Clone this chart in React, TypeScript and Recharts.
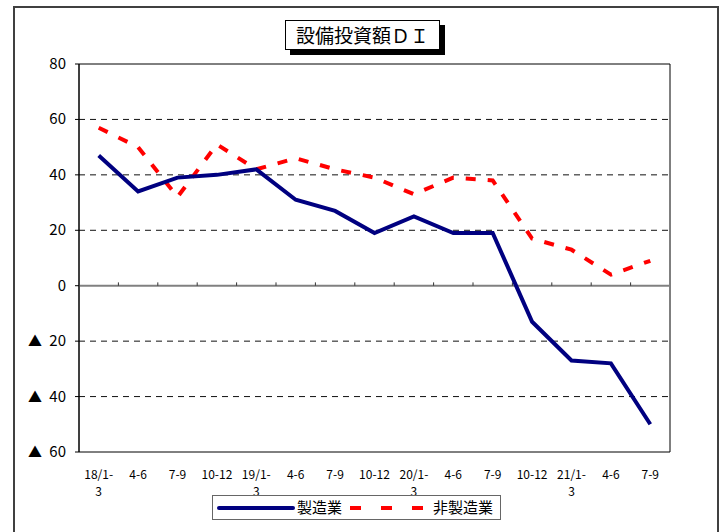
import React from "react";
import {
  LineChart,
  Line,
  XAxis,
  YAxis,
  CartesianGrid,
  ReferenceLine,
  ReferenceArea,
} from "recharts";

const title = "設備投資額ＤＩ";
const categories = [
  "18/1-3", "4-6", "7-9", "10-12",
  "19/1-3", "4-6", "7-9", "10-12",
  "20/1-3", "4-6", "7-9", "10-12",
  "21/1-3", "4-6", "7-9",
];
const seriesNames = ["製造業", "非製造業"];
const manufacturing = [47, 34, 39, 40, 42, 31, 27, 19, 25, 19, 19, -13, -27, -28, -50];
const nonManufacturing = [57, 50, 32, 51, 42, 46, 42, 39, 33, 39, 38, 17, 13, 4, 9];
const yTicks = [-60, -40, -20, 0, 20, 40, 60, 80];

const data = categories.map((c, i) => ({
  idx: i,
  cat: c,
  mfg: manufacturing[i],
  nonMfg: nonManufacturing[i],
}));
const xTicks = categories.map((_, i) => i);
const boundaries = categories.slice(1).map((_, i) => i + 0.5);

const NARROW = "'Liberation Sans Narrow', 'Arial Narrow', 'Noto Sans CJK JP', sans-serif";
const JP = "'Noto Sans CJK JP', sans-serif";

const splitLabel = (c: string): string[] => {
  const m = c.match(/^(\d+\/1-)(3)$/);
  return m ? [m[1], m[2]] : [c];
};

const XTick = (props: any) => {
  const { x, y, payload } = props;
  const label = categories[payload.value] ?? "";
  const lines = splitLabel(label);
  return (
    <g>
      {lines.map((ln, k) => (
        <text
          key={k}
          x={x}
          y={y + 19 + k * 17}
          textAnchor="middle"
          fontSize={12}
          fontFamily={NARROW}
          fill="#000"
        >
          {ln}
        </text>
      ))}
    </g>
  );
};

const YTick = (props: any) => {
  const { x, y, payload } = props;
  const v = payload.value as number;
  return (
    <g>
      {v < 0 && (
        <text x={x - 24} y={y + 5} textAnchor="end" fontSize={14} fontFamily={JP} fill="#000">
          ▲
        </text>
      )}
      <text x={x} y={y + 5} textAnchor="end" fontSize={15} fontFamily={NARROW} fill="#000">
        {Math.abs(v)}
      </text>
    </g>
  );
};

export default function App() {
  return (
    <div
      style={{
        position: "absolute",
        left: 0,
        top: 0,
        width: 728,
        height: 532,
        overflow: "hidden",
        background: "#fff",
      }}
    >
      <div
        style={{
          position: "absolute",
          left: 13,
          top: 6,
          width: 702,
          height: 560,
          border: "2px solid #404040",
        }}
      />
      <LineChart
        width={728}
        height={532}
        data={data}
        margin={{ top: 64, right: 58, bottom: 40, left: 13 }}
        style={{ position: "absolute", left: 0, top: 0 }}
      >
        <CartesianGrid
          vertical={false}
          horizontal={true}
          stroke="#111"
          strokeDasharray="6 5"
          horizontalValues={[-40, -20, 20, 40, 60]}
        />
        <XAxis
          dataKey="idx"
          type="number"
          domain={[-0.5, 14.5]}
          ticks={xTicks}
          interval={0}
          axisLine={false}
          tickLine={false}
          height={40}
          tick={<XTick />}
          allowDecimals={true}
        />
        <YAxis
          type="number"
          domain={[-60, 80]}
          ticks={yTicks}
          interval={0}
          width={66}
          axisLine={{ stroke: "#000", strokeWidth: 1 }}
          tickLine={{ stroke: "#000" }}
          tickSize={4}
          tickMargin={9}
          tick={<YTick />}
        />
        <ReferenceLine y={0} stroke="#808080" strokeWidth={2} />
        {boundaries.map((b) => (
          <ReferenceLine
            key={b}
            segment={[{ x: b, y: 0 }, { x: b, y: 1.2 }]}
            stroke="#333"
            strokeWidth={1}
          />
        ))}
        <ReferenceArea y1={-60} y2={80} fill="none" stroke="#000" strokeWidth={1} fillOpacity={0} />
        <Line
          type="linear"
          dataKey="nonMfg"
          name={seriesNames[1]}
          stroke="#FF0000"
          strokeWidth={4}
          strokeDasharray="10 12"
          dot={false}
          isAnimationActive={false}
        />
        <Line
          type="linear"
          dataKey="mfg"
          name={seriesNames[0]}
          stroke="#000080"
          strokeWidth={4}
          dot={false}
          isAnimationActive={false}
        />
      </LineChart>
      <div
        style={{
          position: "absolute",
          left: 285,
          top: 20,
          width: 153,
          height: 28,
          border: "1.5px solid #000",
          boxShadow: "5px 5px 0 #000",
          background: "#fff",
          fontFamily: JP,
          fontSize: 19,
          lineHeight: "28px",
          textAlign: "center",
          color: "#000",
          letterSpacing: 0,
        }}
      >
        {title}
      </div>
      <div
        style={{
          position: "absolute",
          left: 212,
          top: 495,
          width: 287,
          height: 23,
          border: "1px solid #666",
          background: "#fff",
        }}
      >
        <svg width={287} height={23} style={{ position: "absolute", left: 0, top: 0 }}>
          <line x1={6} y1={12} x2={80} y2={12} stroke="#000080" strokeWidth={4} strokeLinecap="round" />
          <text x={84} y={17} fontSize={15} fontFamily={JP} fill="#000">
            {seriesNames[0]}
          </text>
          <line x1={137} y1={12} x2={211} y2={12} stroke="#FF0000" strokeWidth={4} strokeDasharray="11 20" />
          <text x={220} y={17} fontSize={15} fontFamily={JP} fill="#000">
            {seriesNames[1]}
          </text>
        </svg>
      </div>
    </div>
  );
}
